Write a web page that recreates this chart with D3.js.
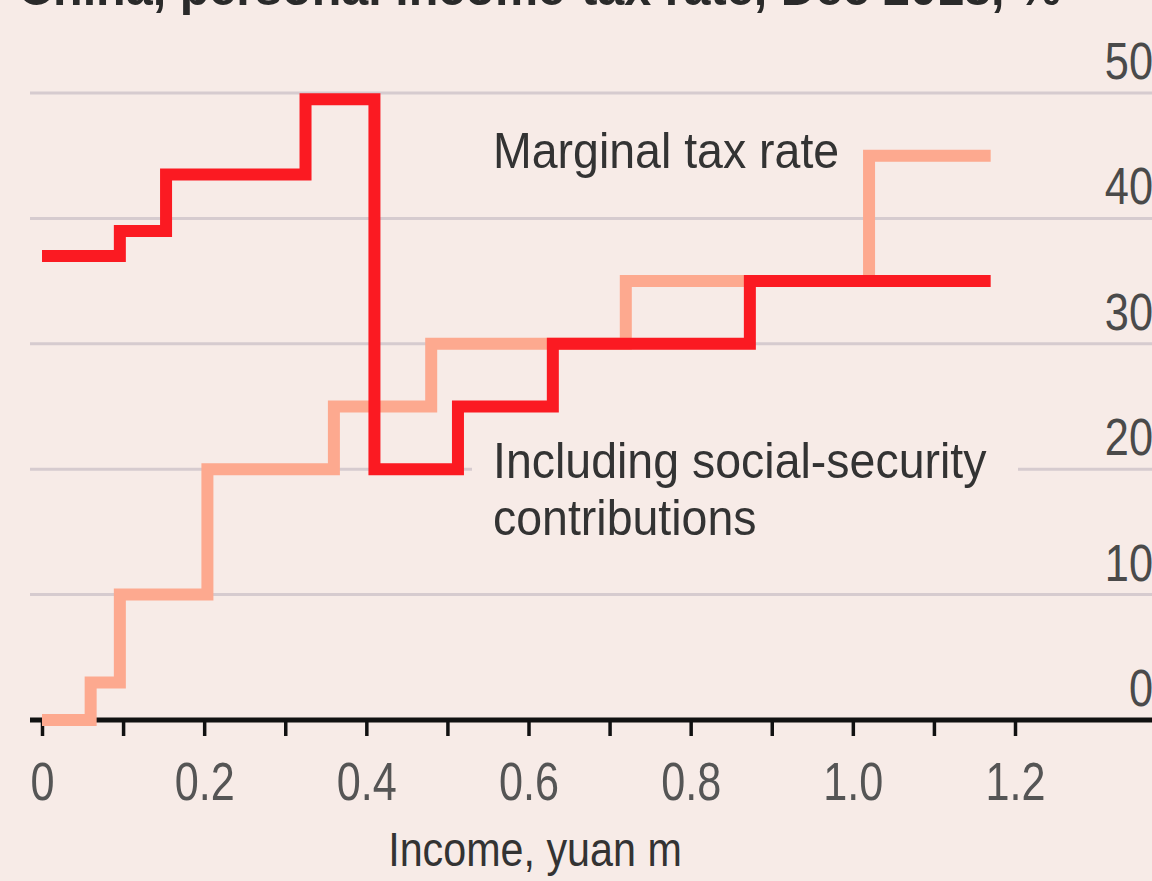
<!DOCTYPE html>
<html><head><meta charset="utf-8">
<script src="https://cdn.jsdelivr.net/npm/d3@7"></script>
<style>
html,body{margin:0;padding:0;background:#f7ebe7;overflow:hidden}
svg{display:block}
text{font-family:"Liberation Sans",Arial,sans-serif}
</style></head><body>
<svg id="c" width="1152" height="881"></svg>
<script>
// ---- data ----
const titleText = "China, personal income-tax rate, Dec 2018, %";
const xTicks = [0,0.1,0.2,0.3,0.4,0.5,0.6,0.7,0.8,0.9,1.0,1.1,1.2];
const xTickLabels = ["0","","0.2","","0.4","","0.6","","0.8","","1.0","","1.2"];
const yTicks = [0,10,20,30,40,50];
const yTickLabels = ["0","10","20","30","40","50"];
// Marginal tax rate (step starts, %), last point closes the final step
const marginalIncome = [0, 0.06, 0.096, 0.204, 0.36, 0.48, 0.72, 1.02, 1.17];
const marginalRate   = [0, 3, 10, 20, 25, 30, 35, 45, 45];
// Including social-security contributions
const inclIncome = [0, 0.096, 0.153, 0.325, 0.41, 0.513, 0.63, 0.873, 1.17];
const inclRate   = [37, 39, 43.5, 49.5, 20, 25, 30, 35, 35];
const labelMarginal = "Marginal tax rate";
const labelIncl = ["Including social-security", "contributions"];
const xTitle = "Income, yuan m";

// ---- drawing ----
const svg = d3.select("#c");
const W = 1152, H = 881;
svg.append("rect").attr("width",W).attr("height",H).attr("fill","#f7ebe7");

const x = d3.scaleLinear().domain([0,1.2]).range([42,1015]);
const y = d3.scaleLinear().domain([0,50]).range([720,93]);

function condensed(sel, tx, ty, sx){
  sel.attr("x",0).attr("y",0).attr("transform",`translate(${tx},${ty}) scale(${sx},1)`);
}

// title (cropped at top, as in the reference)
svg.append("text").call(condensed,18,5,0.97)
  .attr("font-size",50).attr("font-weight","bold").attr("fill","#2a2a2a")
  .text(titleText);

// gridlines
svg.append("g").selectAll("line").data(yTicks.filter(d=>d>0)).join("line")
  .attr("x1",30).attr("x2",W).attr("y1",d=>y(d)).attr("y2",d=>y(d))
  .attr("stroke","#d6cbcf").attr("stroke-width",3);

// right-hand y labels
svg.append("g").selectAll("text").data(yTicks).join("text")
  .each(function(d){ d3.select(this).call(condensed,1153,y(d)-14,0.85); })
  .attr("text-anchor","end")
  .attr("font-size",51).attr("fill","#4a4a4a")
  .text((d,i)=>yTickLabels[i]);

// x axis
const xAxis = d3.axisBottom(x).tickValues(xTicks).tickSize(16)
  .tickFormat((d,i)=>xTickLabels[i]);
const gx = svg.append("g").attr("transform","translate(0,720)").call(xAxis);
gx.select(".domain").remove();
gx.selectAll(".tick line").attr("stroke","#111").attr("stroke-width",3.5);
gx.selectAll(".tick text").attr("y",0).attr("dy",0)
  .attr("transform","translate(0,80) scale(0.8,1)")
  .attr("font-size",54).attr("fill","#555")
  .attr("font-family","'Liberation Sans',Arial,sans-serif");
svg.append("line").attr("x1",30).attr("x2",W).attr("y1",720).attr("y2",720)
  .attr("stroke","#111").attr("stroke-width",5);

svg.append("text").call(condensed,535,866,0.86).attr("text-anchor","middle")
  .attr("font-size",48).attr("fill","#333").text(xTitle);

// step lines
const line = d3.line().x(d=>x(d[0])).y(d=>y(d[1])).curve(d3.curveStepAfter);
const mData = marginalIncome.map((v,i)=>[v,marginalRate[i]]);
const iData = inclIncome.map((v,i)=>[v,inclRate[i]]);

svg.append("path").attr("d",line(mData)).attr("fill","none")
  .attr("stroke","#fda98f").attr("stroke-width",12).attr("stroke-linejoin","miter");
svg.append("path").attr("d",line(iData)).attr("fill","none")
  .attr("stroke","#fb1a22").attr("stroke-width",12).attr("stroke-linejoin","miter");

// annotations
svg.append("rect").attr("x",472).attr("y",428).attr("width",546).attr("height",125)
  .attr("fill","#f7ebe7");
svg.append("text").call(condensed,493,168,0.93).attr("font-size",50)
  .attr("fill","#333").text(labelMarginal);
svg.append("text").call(condensed,493,478,0.93).attr("font-size",50)
  .attr("fill","#333").text(labelIncl[0]);
svg.append("text").call(condensed,493,535,0.93).attr("font-size",50)
  .attr("fill","#333").text(labelIncl[1]);
</script></body></html>
